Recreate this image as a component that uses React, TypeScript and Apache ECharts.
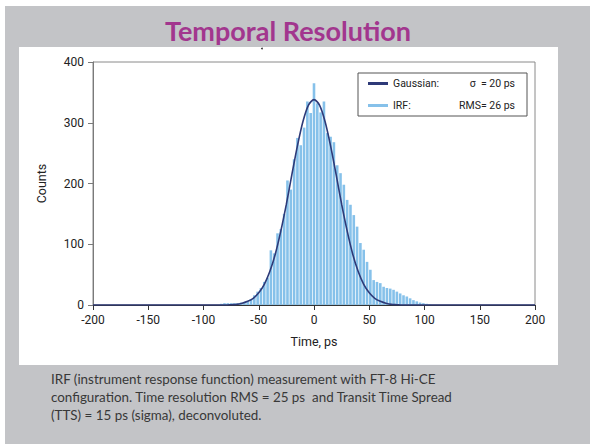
import { useEffect, useRef } from "react";
import * as echarts from "echarts";

const titleText = "Temporal Resolution";
const captionLines = [
  "IRF (instrument response function) measurement with FT-8 Hi-CE",
  "configuration. Time resolution RMS = 25 ps  and Transit Time Spread",
  "(TTS) = 15 ps (sigma), deconvoluted.",
];
const xAxisName = "Time, ps";
const yAxisName = "Counts";

// Histogram (IRF), 3 ps bins
const binTimes = [
  -84, -81, -78, -75, -72, -69, -66, -63, -60, -57, -54, -51, -48, -45, -42, -39, -36, -33, -30, -27, -24, -21,
  -18, -15, -12, -9, -6, -3, 0, 3, 6, 9, 12, 15, 18, 21, 24, 27, 30, 33, 36, 39, 42, 45, 48, 51, 54, 57, 60, 63,
  66, 69, 72, 75, 78, 81, 84, 87, 90, 93, 96, 99, 102, 105,
];
const binCounts = [
  2, 3, 3, 3, 3, 3, 4, 5, 6, 10, 16, 22, 28, 38, 45, 90, 85, 118, 125, 150, 205, 190,
  240, 275, 263, 292, 335, 316, 365, 332, 317, 335, 283, 277, 268, 230, 217, 198, 173, 165, 148, 129, 102, 91, 71, 58, 41, 38, 36, 30,
  28, 27, 25, 22, 19, 16, 14, 11, 8, 6, 4, 3, 2, 1,
];

// Gaussian fit curve
const gaussTimes = [
  -200, -80, -75, -70, -65, -60, -55, -50, -45, -40, -35, -30, -25, -20, -15, -10, -5, 0, 5, 10, 15, 20, 25, 30,
  35, 40, 45, 50, 55, 60, 65, 70, 75, 80, 200,
];
const gaussCounts = [
  0, 0, 0.5, 1, 3, 6, 11, 20, 34, 55, 84, 122, 166, 215, 262, 302, 329, 338, 329, 302, 262, 215, 166, 122,
  84, 55, 34, 20, 11, 6, 3, 1, 0.5, 0, 0,
];

const legendGaussianLabel = ["Gaussian:", "σ  = 20 ps"];
const legendIrfLabel = ["IRF:", "RMS= 26 ps"];

export default function App() {
  const ref = useRef<HTMLDivElement>(null);
  useEffect(() => {
    if (!ref.current) return;
    const chart = echarts.init(ref.current, null, { renderer: "svg" });
    const font = "Roboto, 'Open Sans', sans-serif";
    chart.setOption({
      animation: false,
      textStyle: { fontFamily: font },
      graphic: [
        { type: "rect", z: -20, shape: { x: 5, y: 6, width: 585, height: 438 }, style: { fill: "#c3c4c7" } },
        { type: "rect", z: -19, shape: { x: 19, y: 47, width: 539, height: 318 }, style: { fill: "#ffffff" } },
        {
          type: "text",
          z: 10,
          x: 288,
          y: 17,
          style: {
            text: titleText,
            fill: "#a2368e",
            font: "bold 27px Lato, 'Open Sans', sans-serif",
            textAlign: "center",
            textVerticalAlign: "top",
          },
        },
        { type: "circle", z: 10, shape: { cx: 262, cy: 48.5, r: 0.9 }, style: { fill: "#333" } },
        {
          type: "text",
          z: 10,
          x: 51,
          y: 370,
          style: {
            text: captionLines.join("\n"),
            fill: "#383838",
            font: "13.4px Lato, 'Open Sans', sans-serif",
            lineHeight: 18,
            textAlign: "left",
            textVerticalAlign: "top",
          },
        },
      ],
      grid: {
        left: 93,
        right: 62,
        top: 62,
        bottom: 139,
        show: true,
        borderColor: "#8a8a8a",
        borderWidth: 1,
        backgroundColor: "transparent",
      },
      legend: {
        data: ["Gaussian", "IRF"],
        orient: "vertical",
        left: 358,
        top: 73,
        padding: [5, 12, 5, 10],
        itemGap: 11,
        itemWidth: 20,
        itemHeight: 3,
        icon: "rect",
        backgroundColor: "#ffffff",
        borderColor: "#555555",
        borderWidth: 1,
        formatter: (name: string) => {
          const l = name === "Gaussian" ? legendGaussianLabel : legendIrfLabel;
          return `{a|${l[0]}}{b|${l[1]}}`;
        },
        textStyle: {
          fontSize: 10.5,
          color: "#222",
          rich: {
            a: { width: 58, fontSize: 10.5, color: "#222", fontFamily: font },
            b: { width: 64, align: "right", fontSize: 10.5, color: "#222", fontFamily: font },
          },
        },
      },
      xAxis: {
        type: "value",
        min: -200,
        max: 200,
        interval: 50,
        name: xAxisName,
        nameLocation: "middle",
        nameGap: 30,
        nameTextStyle: { fontSize: 12.5, color: "#222" },
        axisLine: { show: true, onZero: false, lineStyle: { color: "#333", width: 1.2 } },
        axisTick: { show: true, inside: false, length: 5, lineStyle: { color: "#333" } },
        axisLabel: { fontSize: 12, color: "#222", margin: 9 },
        splitLine: { show: false },
      },
      yAxis: {
        type: "value",
        min: 0,
        max: 400,
        interval: 100,
        name: yAxisName,
        nameLocation: "middle",
        nameGap: 45,
        nameTextStyle: { fontSize: 12.5, color: "#222" },
        axisLine: { show: true, onZero: false, lineStyle: { color: "#7a7a7a" } },
        axisTick: { show: true, inside: false, length: 5, lineStyle: { color: "#7a7a7a" } },
        axisLabel: { fontSize: 12, color: "#222", margin: 9 },
        splitLine: { show: false },
      },
      series: [
        {
          name: "IRF",
          type: "bar",
          data: binTimes.map((t, i) => [t, binCounts[i]]),
          barWidth: 2.6,
          itemStyle: { color: "#86c1ea" },
          z: 2,
        },
        {
          name: "Gaussian",
          type: "line",
          data: gaussTimes.map((t, i) => [t, gaussCounts[i]]),
          smooth: 0.3,
          showSymbol: false,
          symbol: "none",
          lineStyle: { color: "#2e3a78", width: 1.6 },
          itemStyle: { color: "#2e3a78" },
          z: 3,
        },
      ],
    });
    return () => chart.dispose();
  }, []);
  return (
    <div
      ref={ref}
      style={{ position: "fixed", left: 0, top: 0, width: 597, height: 444, background: "#ffffff" }}
    />
  );
}
